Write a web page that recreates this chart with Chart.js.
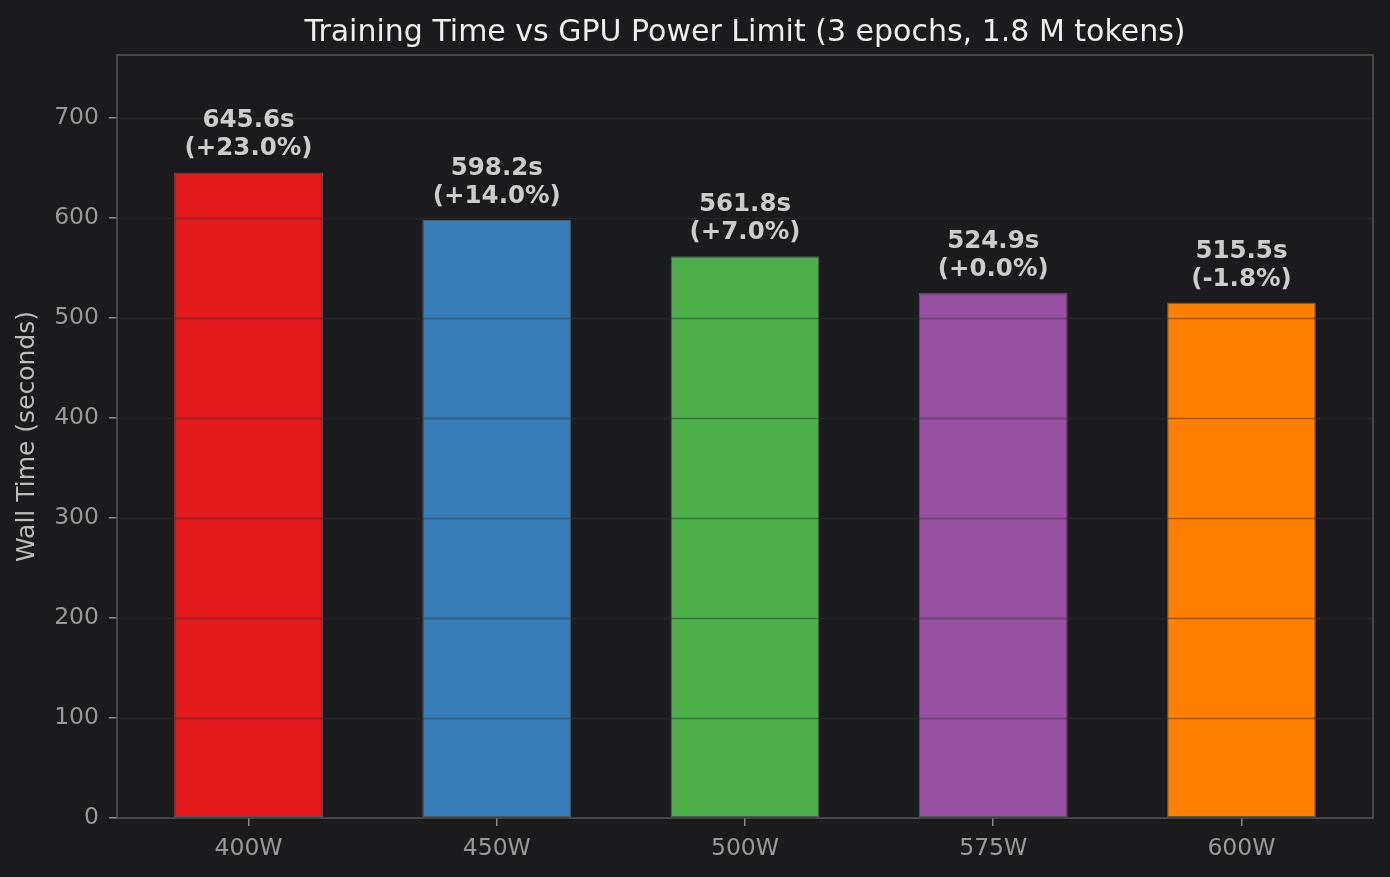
<!DOCTYPE html>
<html>
<head>
<meta charset="utf-8">
<script src="https://cdn.jsdelivr.net/npm/chart.js@4.4.1/dist/chart.umd.min.js"></script>
<style>
html,body{margin:0;padding:0;background:#1b1b1f;}
#wrap{width:1390px;height:877px;}
</style>
</head>
<body>
<div id="wrap"><canvas id="c" width="1390" height="877"></canvas></div>
<script>
const categories = ["400W", "450W", "500W", "575W", "600W"];
const wallTimes = [645.6, 598.2, 561.8, 524.9, 515.5];
const pctLabels = ["(+23.0%)", "(+14.0%)", "(+7.0%)", "(+0.0%)", "(-1.8%)"];
const barColors = ["#e41a1c", "#377eb8", "#4daf4a", "#984ea3", "#ff7f00"];
const yTicks = [0, 100, 200, 300, 400, 500, 600, 700];
const titleText = 'Training Time vs GPU Power Limit (3 epochs, 1.8 M tokens)';

const FONT = "'DejaVu Sans', sans-serif";

const overlayPlugin = {
  id: 'overlay',
  afterDatasetsDraw(chart) {
    const ctx = chart.ctx;
    const ys = chart.scales.y;
    const a = chart.chartArea;
    ctx.save();
    // grid over bars
    ctx.strokeStyle = 'rgba(50,50,54,0.5)';
    ctx.lineWidth = 1.5;
    yTicks.forEach(v => {
      if (v === 0) return;
      const py = Math.round(ys.getPixelForValue(v)) + 0.5;
      ctx.beginPath();
      ctx.moveTo(a.left, py);
      ctx.lineTo(a.right, py);
      ctx.stroke();
    });
    // frame
    ctx.strokeStyle = '#555';
    ctx.lineWidth = 1.5;
    ctx.strokeRect(a.left, a.top, a.right - a.left, a.bottom - a.top);
    // title
    ctx.fillStyle = '#eeeeee';
    ctx.font = "30px " + FONT;
    ctx.textAlign = 'center';
    ctx.textBaseline = 'alphabetic';
    ctx.fillText(titleText, (a.left + a.right) / 2, 41);
    // labels
    const meta = chart.getDatasetMeta(0);
    ctx.fillStyle = '#cccccc';
    ctx.font = "bold 24.5px " + FONT;
    meta.data.forEach((bar, i) => {
      const x = bar.x;
      const top = bar.y;
      ctx.fillText(pctLabels[i], x, top - 17);
      ctx.fillText(wallTimes[i].toFixed(1) + 's', x, top - 45);
    });
    ctx.restore();
  }
};

new Chart(document.getElementById('c'), {
  type: 'bar',
  data: {
    datasets: [{
      data: wallTimes.map((v, i) => ({x: i, y: v})),
      backgroundColor: barColors,
      borderColor: '#555555',
      borderWidth: 1.2,
      borderSkipped: false,
      barPercentage: 0.6,
      categoryPercentage: 1.0
    }]
  },
  options: {
    responsive: false,
    animation: false,
    devicePixelRatio: 1,
    layout: {padding: {left: 0, right: 17, top: 55, bottom: 0}},
    plugins: {
      legend: {display: false},
      tooltip: {enabled: false},
      title: {display: false}
    },
    scales: {
      x: {
        type: 'linear',
        min: -0.53,
        max: 4.53,
        offset: false,
        afterBuildTicks(s) { s.ticks = categories.map((_, i) => ({value: i})); },
        afterFit(s) { s.height = 59; },
        ticks: {
          color: '#999999',
          font: {family: FONT, size: 23.5},
          padding: 9,
          callback: (v) => categories[v] ?? ''
        },
        grid: {display: true, offset: false, drawOnChartArea: false, drawTicks: true, tickLength: 8, color: '#888888', lineWidth: 1.5},
        border: {display: false}
      },
      y: {
        min: 0,
        max: 763,
        afterBuildTicks(s) { s.ticks = yTicks.map(v => ({value: v})); },
        afterFit(s) { s.width = 117; },
        ticks: {
          color: '#999999',
          font: {family: FONT, size: 23.5},
          padding: 10
        },
        title: {
          display: true,
          text: 'Wall Time (seconds)',
          color: '#bbbbbb',
          font: {family: FONT, size: 25},
          padding: {top: 12, bottom: 0}
        },
        grid: {display: true, drawOnChartArea: false, drawTicks: true, tickLength: 8, color: '#888888', lineWidth: 1.5},
        border: {display: false}
      }
    }
  },
  plugins: [overlayPlugin, {
    id: 'bg',
    beforeDraw(chart) {
      const ctx = chart.ctx;
      ctx.save();
      ctx.fillStyle = '#1b1b1f';
      ctx.fillRect(0, 0, chart.width, chart.height);
      ctx.restore();
    }
  }]
});
</script>
</body>
</html>
